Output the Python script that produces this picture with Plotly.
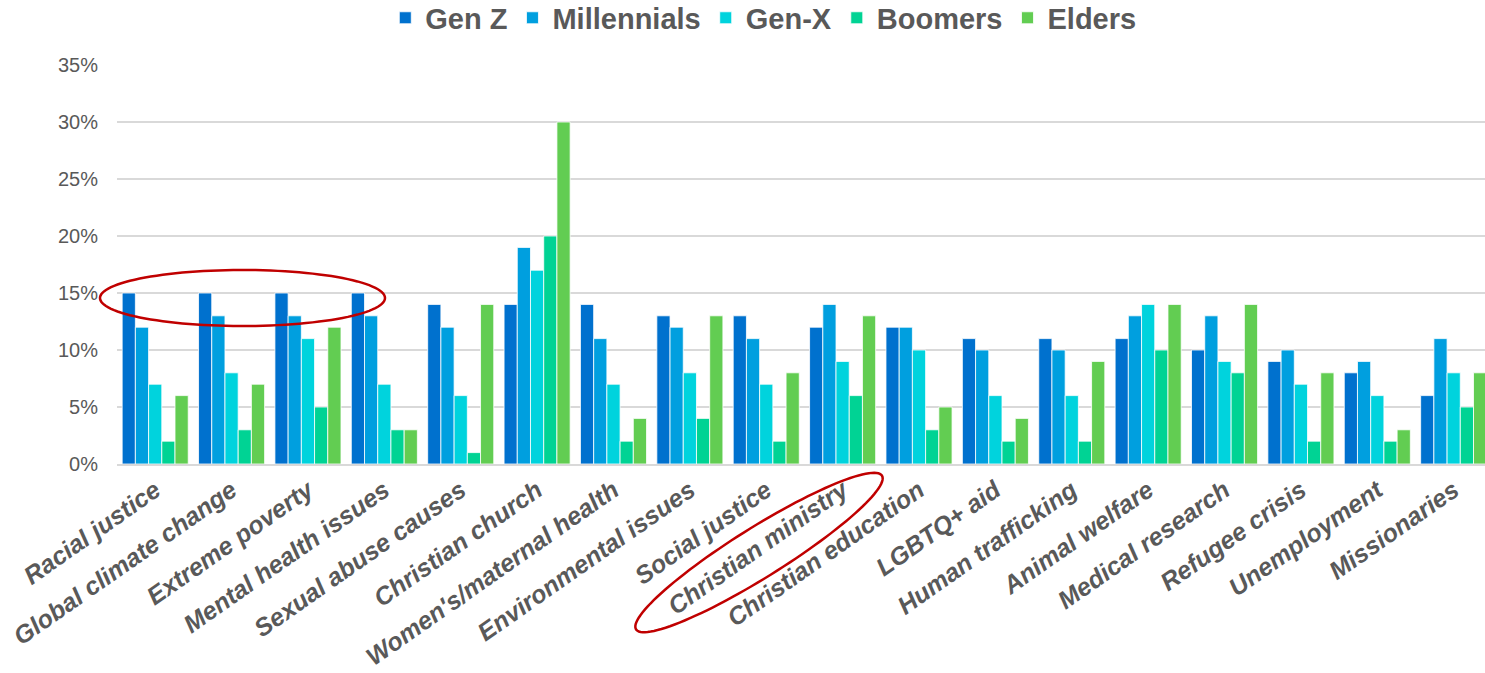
import numpy as np
import plotly.graph_objects as go

categories = [
    "Racial justice", "Global climate change", "Extreme poverty", "Mental health issues",
    "Sexual abuse causes", "Christian church", "Women's/maternal health", "Environmental issues",
    "Social justice", "Christian ministry", "Christian education", "LGBTQ+ aid",
    "Human trafficking", "Animal welfare", "Medical research", "Refugee crisis",
    "Unemployment", "Missionaries",
]
gen_z       = [15, 15, 15, 15, 14, 14, 14, 13, 13, 12, 12, 11, 11, 11, 10, 9, 8, 6]
millennials = [12, 13, 13, 13, 12, 19, 11, 12, 11, 14, 12, 10, 10, 13, 13, 10, 9, 11]
gen_x       = [7, 8, 11, 7, 6, 17, 7, 8, 7, 9, 10, 6, 6, 14, 9, 7, 6, 8]
boomers     = [2, 3, 5, 3, 1, 20, 2, 4, 2, 6, 3, 2, 2, 10, 8, 2, 2, 5]
elders      = [6, 7, 12, 3, 14, 30, 4, 13, 8, 13, 5, 4, 9, 14, 14, 8, 3, 8]

series = [
    ("Gen Z", gen_z, "#0071CE"),
    ("Millennials", millennials, "#009FDF"),
    ("Gen-X", gen_x, "#00D3DD"),
    ("Boomers", boomers, "#00D394"),
    ("Elders", elders, "#62CD52"),
]

W, H = 1485, 673
ML, MR, MT, MB = 117, 0, 65, 209
GRAY = "#595959"
GRID = "#D9D9D9"
RED = "#C00000"

fig = go.Figure()
for name, vals, color in series:
    fig.add_trace(go.Bar(
        name=name, x=categories, y=vals,
        marker=dict(color=color, line=dict(color="white", width=0.8)),
    ))

plot_w = W - ML - MR
plot_h = H - MT - MB


def ellipse_path(cx, cy, a, b, angle_deg, n=120):
    """Closed ellipse outline given in pixels, returned as a paper-space SVG path."""
    t = np.linspace(0, 2 * np.pi, n)
    ang = np.deg2rad(angle_deg)
    px = cx + a * np.cos(t) * np.cos(ang) - b * np.sin(t) * np.sin(ang)
    py = cy - (a * np.cos(t) * np.sin(ang) + b * np.sin(t) * np.cos(ang))
    xs = (px - ML) / plot_w
    ys = (H - MB - py) / plot_h
    pts = [f"{x:.5f},{y:.5f}" for x, y in zip(xs, ys)]
    return "M " + " L ".join(pts) + " Z"


fig.update_layout(
    width=W, height=H,
    margin=dict(l=ML, r=MR, t=MT, b=MB, autoexpand=False),
    paper_bgcolor="white", plot_bgcolor="white",
    barmode="group", bargap=0.135, bargroupgap=0,
    font=dict(family="Liberation Sans, Arial, sans-serif", color=GRAY),
    legend=dict(
        orientation="h", x=0.514, xanchor="center", xref="container",
        y=1.118, yanchor="middle", yref="paper",
        font=dict(size=29, color=GRAY, weight="bold"),
        itemwidth=30, traceorder="normal",
    ),
    xaxis=dict(
        range=[-0.5, 17.41], tickangle=-35, automargin=False,
        tickfont=dict(size=25, color=GRAY, weight="bold", style="italic"),
        showline=True, linecolor=GRID, linewidth=2, ticks="", showgrid=False,
    ),
    yaxis=dict(
        range=[0, 35], dtick=5, ticksuffix="%", automargin=False,
        tickfont=dict(size=20, color=GRAY),
        showgrid=True, gridcolor=GRID, gridwidth=2, zeroline=False,
        ticks="", ticklabelstandoff=18,
    ),
    shapes=[
        dict(type="path", xref="paper", yref="paper",
             path=ellipse_path(242.5, 298, 142.5, 28, 0),
             line=dict(color=RED, width=2.5), layer="above"),
        dict(type="path", xref="paper", yref="paper",
             path=ellipse_path(759, 552.5, 145, 25, 32),
             line=dict(color=RED, width=2.5), layer="above"),
    ],
)

fig.write_html("out.html")
